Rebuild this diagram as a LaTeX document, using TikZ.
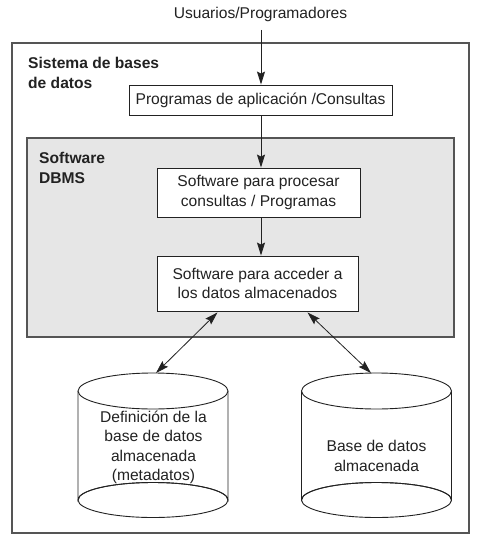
\documentclass[tikz,border=0pt]{standalone}
\usepackage{fontspec}
\setmainfont{Liberation Sans}
\usetikzlibrary{arrows.meta,calc}
\definecolor{ink}{HTML}{222222}
\definecolor{frame}{HTML}{555555}
\definecolor{panel}{HTML}{E6E6E6}
\begin{document}
\begin{tikzpicture}[x=1pt,y=-1pt,
  txt/.style={font=\fontsize{15.6}{19.5}\selectfont, text=ink, align=center, inner sep=0pt},
  boldlbl/.style={font=\fontsize{15.6}{20}\selectfont\bfseries, text=ink, align=left, inner sep=0pt, anchor=west},
  procbox/.style={draw=ink, line width=0.9pt, fill=white, font=\fontsize{15.6}{19.5}\selectfont, text=ink, align=center, inner sep=0pt},
  flow/.style={draw=ink, line width=0.9pt, -{Stealth[length=13pt,width=8pt,inset=2pt]}},
  biflow/.style={draw=ink, line width=0.8pt, {Stealth[length=13pt,width=8pt,inset=2pt]}-{Stealth[length=13pt,width=8pt,inset=2pt]}},
  cylline/.style={draw=ink, line width=0.9pt}
]
\useasboundingbox (0,0) rectangle (485,543);
\fill[white] (0,0) rectangle (485,543);

% outer system frame
\draw[frame, line width=1.1pt] (12,43) rectangle (469,533);
% DBMS panel
\draw[frame, fill=panel, line width=1.1pt] (27,138) rectangle (454,337);

\node[txt] (users) at (260.5,14) {Usuarios/Programadores};
\coordinate (usersend) at (261,30);

\node[boldlbl] (syslbl) at (28,73) {Sistema de bases\\de datos};
\node[boldlbl] (dbmslbl) at (39,167.5) {Software\\DBMS};

\node[procbox, minimum width=263pt, minimum height=30pt] (apps) at (260.5,100) {Programas de aplicación /Consultas};
\node[procbox, minimum width=203pt, minimum height=49pt] (proc) at (258.5,192.5) {Software para procesar\\consultas / Programas};
\node[procbox, minimum width=201pt, minimum height=55pt] (access) at (257.5,283.5) {Software para acceder a\\los datos almacenados};

\draw[flow] (usersend) -- (apps.north -| usersend);
\draw[flow] (apps.south -| usersend) -- (proc.north -| usersend);
\draw[flow] (proc.south -| usersend) -- (access.north -| usersend);

% cylinders
\foreach \cx in {153,376.5}{
  \draw[cylline, fill=white] (\cx-75,391) -- (\cx-75,500) arc[start angle=180,end angle=360,x radius=75,y radius=17.5] -- (\cx+75,391);
  \draw[cylline] (\cx,500) ellipse[x radius=75,y radius=17.5];
  \draw[cylline, fill=white] (\cx,391) ellipse[x radius=75,y radius=18];
}
\coordinate (db1top) at (156,373);
\coordinate (db2top) at (371,373);

\node[txt] (metadb) at (153.5,447.5) {Definición de la\\base de datos\\almacenada\\ (metadatos)};
\node[txt] (datadb) at (376.5,456) {Base de datos\\almacenada};

\draw[biflow] ($(access.south)+(-40,1)$) -- (db1top);
\draw[biflow] ($(access.south)+(50,1)$) -- (db2top);
\end{tikzpicture}
\end{document}
